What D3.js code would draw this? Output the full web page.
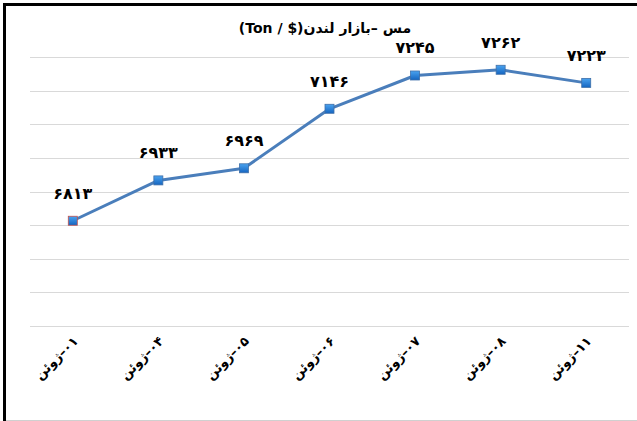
<!DOCTYPE html>
<html><head><meta charset="utf-8">
<script src="https://cdn.jsdelivr.net/npm/d3@7"></script>
<style>
html,body{margin:0;padding:0;background:#fff;}
svg text{font-family:"DejaVu Sans",sans-serif;font-weight:bold;}
</style></head>
<body>
<script>
const categories = ["۰۱–ژوئن","۰۴–ژوئن","۰۵–ژوئن","۰۶–ژوئن","۰۷–ژوئن","۰۸–ژوئن","۱۱–ژوئن"];
const values = [6813, 6933, 6969, 7146, 7245, 7262, 7223];
const yTicks = [6500, 6600, 6700, 6800, 6900, 7000, 7100, 7200, 7300];
const title = "مس –بازار لندن($ / Ton)";

const W = 637, H = 421;
const toFa = n => String(n).replace(/\d/g, d => "۰۱۲۳۴۵۶۷۸۹"[d]);

const svg = d3.select("body").append("svg").attr("width", W).attr("height", H);
svg.append("rect").attr("width", W).attr("height", H).attr("fill", "#fff");
// frame
svg.append("line").attr("x1", 4.5).attr("x2", 4.5).attr("y1", 3).attr("y2", H).attr("stroke", "#000").attr("stroke-width", 3);
svg.append("line").attr("x1", 3).attr("x2", W).attr("y1", 4.5).attr("y2", 4.5).attr("stroke", "#000").attr("stroke-width", 3);
svg.append("line").attr("x1", 6).attr("x2", W).attr("y1", 420.5).attr("y2", 420.5).attr("stroke", "#d0d0d0").attr("stroke-width", 1);

const x = d3.scaleBand().domain(categories).range([30, 629]);
const y = d3.scaleLinear().domain([6500, 7300]).range([326, 57]);

// gridlines
svg.append("g").selectAll("line").data(yTicks).join("line")
  .attr("x1", 30).attr("x2", 629)
  .attr("y1", d => Math.round(y(d)) + 0.5).attr("y2", d => Math.round(y(d)) + 0.5)
  .attr("stroke", "#d9d9d9").attr("stroke-width", 1);

// title
svg.append("text").attr("x", 325).attr("y", 33).attr("text-anchor", "middle")
  .style("direction", "rtl").style("unicode-bidi", "embed")
  .attr("font-size", 14).attr("fill", "#000").text(title);

const cx = d => x(d) + x.bandwidth() / 2;

// line
const line = d3.line().x((d, i) => cx(categories[i])).y(d => y(d));
svg.append("path").datum(values).attr("d", line).attr("fill", "none")
  .attr("stroke", "#4a7ebb").attr("stroke-width", 3).attr("stroke-linejoin", "round");

// gradient for markers
const defs = svg.append("defs");
const g = defs.append("linearGradient").attr("id", "mk").attr("x1", 0).attr("y1", 0).attr("x2", 0).attr("y2", 1);
g.append("stop").attr("offset", "0%").attr("stop-color", "#4aa3f0");
g.append("stop").attr("offset", "100%").attr("stop-color", "#1565c0");

svg.append("g").selectAll("rect").data(values).join("rect")
  .attr("x", (d, i) => cx(categories[i]) - 4.5).attr("y", d => y(d) - 4.5)
  .attr("width", 9).attr("height", 9)
  .attr("fill", "url(#mk)")
  .attr("stroke", (d, i) => i === 0 ? "#c0504d" : "#3f6fa8").attr("stroke-width", 0.8);

// data labels
svg.append("g").selectAll("text").data(values).join("text")
  .attr("x", (d, i) => cx(categories[i]))
  .attr("y", d => y(d) - 22)
  .attr("text-anchor", "middle").attr("font-size", 16).attr("fill", "#000")
  .text(d => toFa(d));

// x labels (rtl: "start" is the right end)
svg.append("g").selectAll("text").data(categories).join("text")
  .attr("transform", d => `translate(${cx(d) + 6},${342}) rotate(-45)`)
  .attr("text-anchor", "start").attr("font-size", 13).attr("fill", "#000")
  .style("direction", "rtl").style("unicode-bidi", "embed")
  .text(d => d);
</script>
</body></html>
